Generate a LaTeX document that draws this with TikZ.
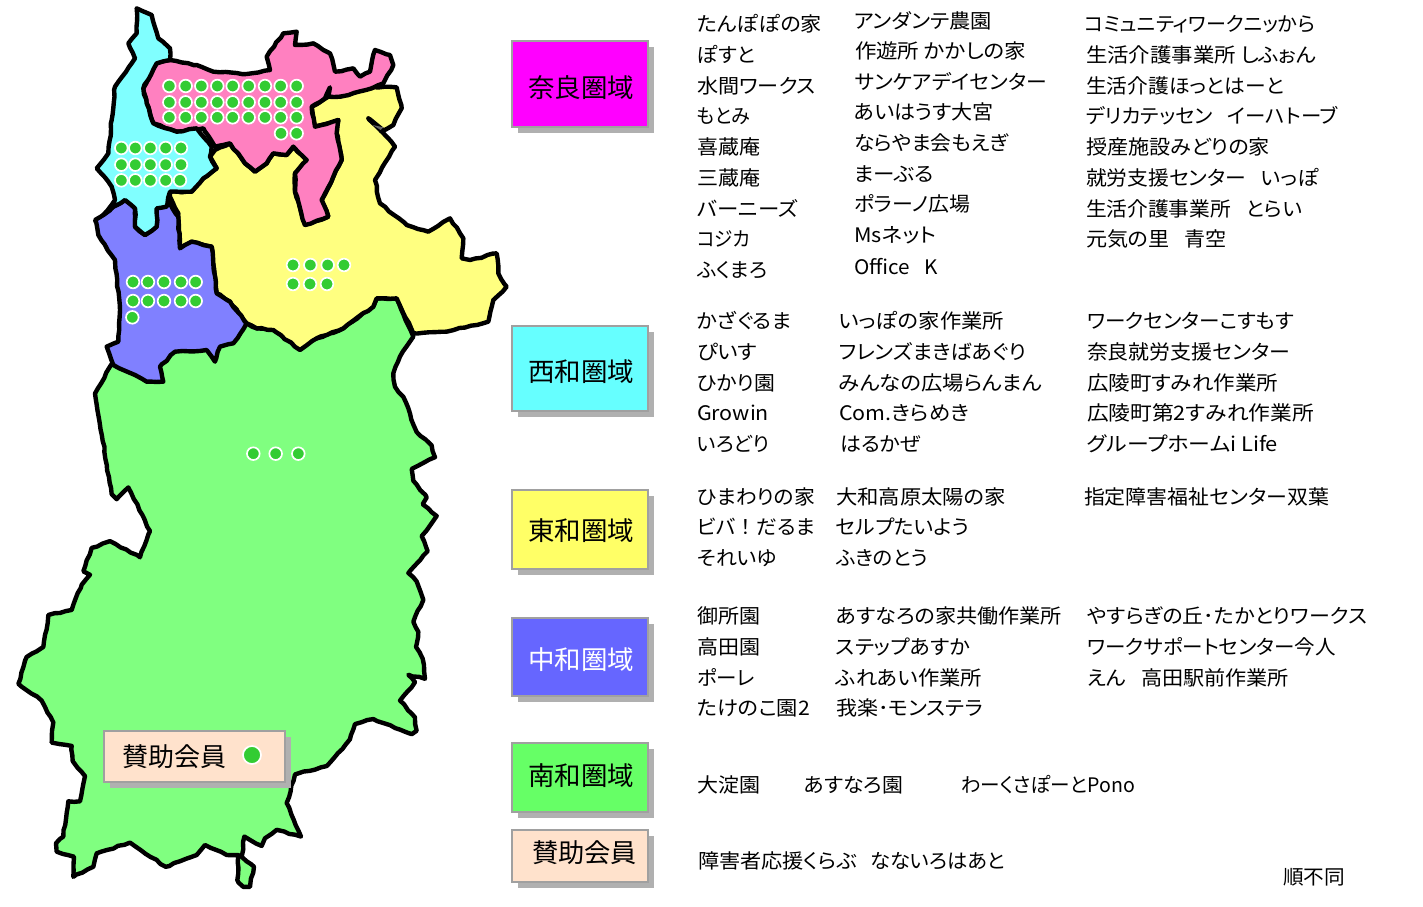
\documentclass[tikz,border=0pt]{standalone}
\usepackage{fontspec}
\usepackage{graphicx}
\usetikzlibrary{decorations.pathmorphing}
\newfontfamily\jp[RawFeature=+palt]{Noto Sans CJK JP}
\definecolor{rgpink}{HTML}{FF80C0}
\definecolor{rgcyan}{HTML}{80FFFF}
\definecolor{rgyellow}{HTML}{FFFF80}
\definecolor{rgpurple}{HTML}{8080FF}
\definecolor{rggreen}{HTML}{80FF80}
\definecolor{lgmag}{HTML}{FF00FF}
\definecolor{lgcyan}{HTML}{66FFFF}
\definecolor{lgyellow}{HTML}{FFFF66}
\definecolor{lgblue}{HTML}{6666FF}
\definecolor{lggreen}{HTML}{66FF66}
\definecolor{lgpeach}{HTML}{FFE2CC}
\definecolor{dotgreen}{HTML}{33CC33}
\definecolor{shadowgray}{HTML}{B0B0B0}
\definecolor{edgegray}{HTML}{A0A0A0}
\newlength\txlen
\newcounter{tc}
\newcommand\txcol{black}
\newcommand\gap{\hspace{.72em}}
\newcommand\tx[5][20]{%
  \stepcounter{tc}%
  \node[labeltext,text=\txcol] (t\arabic{tc}) at (#2,#4+0.37*#1+0.3) {\fontsize{#1}{#1}\jp\settowidth\txlen{#5}\pgfmathsetmacro\txs{(#3-#2)/\txlen}\scalebox{\txs}[1]{#5}};}
\newcommand\legend[6]{%
  \fill[shadowgray] (#2+6,#3+6) rectangle (#4+6,#5+6);
  \node[legendbox,fill=#6,minimum width=#4-#2,minimum height=#5-#3] (#1) at ({(#2+#4)/2},{(#3+#5)/2}) {};}
\newcommand\dotrow[2]{\foreach \xx in {#1} {\fill[mapdot] (\xx,#2) circle (19);}}
\tikzset{
  labeltext/.style={anchor=base west,inner sep=0pt,outer sep=0pt},
  legendbox/.style={draw=edgegray,line width=2.2pt,inner sep=0pt,outer sep=0pt},
  region/.style={draw=black,line width=4.4pt,line join=round,decorate,decoration={random steps,segment length=6pt,amplitude=0.7pt}},
  mapdot/.style={fill=dotgreen,draw=white,line width=1.7pt},
}
\pgfmathsetseed{7}
\begin{document}
\begin{tikzpicture}[x=1pt,y=-1pt]
\useasboundingbox (0,0) rectangle (1423,906);
\fill[white] (0,0) rectangle (1423,906);
% map in 3x coordinates
\begin{scope}[x=0.33333pt,y=-0.33333pt]
\begin{scope}[y=-0.3357pt,shift={(0pt,-380pt)}]
\path[region,fill=rggreen] (330,-40) -- (400,-139) -- (740,-169) -- (770,-154) -- (820,-149) -- (895,-99) -- (950,-124) -- (1030,-154) -- (1120,-219) -- (1130,-243) -- (1190,-243) -- (1240,-129) -- (1200,-70) -- (1180,-20) -- (1185,20) -- (1210,50) -- (1250,155) -- (1295,195) -- (1305,230) -- (1235,265) -- (1240,300) -- (1280,350) -- (1268,370) -- (1310,405) -- (1265,465) -- (1283,510) -- (1225,575) -- (1250,600) -- (1270,655) -- (1240,720) -- (1255,750) -- (1248,795) -- (1268,830) -- (1275,890) -- (1225,878) -- (1245,900) -- (1200,955) -- (1245,1005) -- (1250,1045) -- (1235,1055) -- (1120,1010) -- (1065,1025) -- (1050,1070) -- (980,1150) -- (885,1175) -- (860,1260) -- (903,1360) -- (830,1340) -- (795,1365) -- (785,1388) -- (733,1360) -- (725,1420) -- (762,1450) -- (750,1510) -- (730,1510) -- (712,1490) -- (715,1415) -- (680,1415) -- (615,1385) -- (590,1415) -- (497,1450) -- (390,1378) -- (290,1410) -- (280,1450) -- (220,1480) -- (222,1420) -- (170,1405) -- (168,1380) -- (190,1360) -- (205,1255) -- (240,1255) -- (255,1180) -- (218,1135) -- (215,1090) -- (155,1080) -- (160,1020) -- (125,955) -- (55,905) -- (80,825) -- (130,795) -- (145,700) -- (215,685) -- (245,610) -- (270,580) -- (250,570) -- (275,500) -- (330,480) -- (420,528) -- (450,450) -- (385,320) -- (350,355) -- (335,340) -- (285,40) -- cycle;
\end{scope}
\path[region,fill=rgyellow] (510,575) -- (575,575) -- (610,535) -- (650,505) -- (630,470) -- (645,450) -- (690,430) -- (735,490) -- (765,515) -- (800,490) -- (820,460) -- (860,465) -- (880,440) -- (920,480) -- (885,520) -- (885,575) -- (915,675) -- (985,650) -- (965,600) -- (1000,530) -- (1025,480) -- (1010,400) -- (1015,360) -- (945,380) -- (935,320) -- (985,290) -- (1020,290) -- (1115,260) -- (1190,262) -- (1205,325) -- (1180,375) -- (1145,395) -- (1105,355) -- (1160,410) -- (1185,440) -- (1125,540) -- (1140,610) -- (1220,675) -- (1285,695) -- (1350,655) -- (1390,715) -- (1385,775) -- (1410,780) -- (1490,760) -- (1495,820) -- (1520,860) -- (1480,900) -- (1465,965) -- (1340,995) -- (1240,1000) -- (1190,895) -- (1130,895) -- (1120,920) -- (1030,985) -- (950,1015) -- (900,1050) -- (820,990) -- (770,985) -- (740,970) -- (690,905) -- (650,880) -- (635,740) -- (575,725) -- (540,745) -- (535,640) -- (510,590) -- cycle;
\path[region,fill=rgpurple] (285,660) -- (310,645) -- (340,620) -- (375,600) -- (405,625) -- (405,680) -- (435,705) -- (470,680) -- (470,625) -- (510,610) -- (535,650) -- (540,745) -- (575,725) -- (635,740) -- (650,880) -- (690,905) -- (740,970) -- (700,1030) -- (660,1040) -- (645,1085) -- (620,1050) -- (525,1055) -- (480,1100) -- (490,1145) -- (440,1145) -- (405,1125) -- (340,1095) -- (320,1040) -- (355,1025) -- (360,930) -- (345,780) -- (295,705) -- cycle;
\path[region,fill=rgpink] (430,265) -- (470,190) -- (510,180) -- (590,195) -- (640,215) -- (740,222) -- (810,210) -- (800,170) -- (850,100) -- (890,95) -- (885,135) -- (940,130) -- (990,160) -- (1005,215) -- (1060,205) -- (1080,230) -- (1110,215) -- (1125,150) -- (1170,165) -- (1180,195) -- (1150,250) -- (1115,265) -- (1020,290) -- (985,290) -- (990,262) -- (975,295) -- (935,320) -- (945,380) -- (1015,360) -- (1010,400) -- (1025,480) -- (1000,530) -- (965,600) -- (985,650) -- (915,675) -- (885,575) -- (885,520) -- (920,480) -- (880,440) -- (860,465) -- (820,460) -- (800,490) -- (765,515) -- (735,490) -- (690,430) -- (645,440) -- (610,385) -- (530,395) -- (460,370) -- (440,310) -- cycle;
\path[region,fill=rgcyan] (410,25) -- (455,45) -- (475,115) -- (510,145) -- (510,180) -- (470,190) -- (430,265) -- (440,310) -- (460,370) -- (530,395) -- (590,385) -- (635,440) -- (630,470) -- (650,505) -- (610,535) -- (575,575) -- (510,575) -- (500,620) -- (470,625) -- (470,680) -- (435,705) -- (405,680) -- (405,625) -- (375,600) -- (340,620) -- (310,645) -- (345,600) -- (335,560) -- (290,505) -- (325,460) -- (335,360) -- (345,260) -- (395,190) -- (405,175) -- (385,130) -- (410,100) -- cycle;
\draw[black,line width=5pt,line cap=round] (1108,358) -- (1150,392);
\fill[black!60] (1118,375) -- (1150,382) -- (1142,390) -- cycle;
% dots
\dotrow{508,557,604,652,698,746,795,842,890}{258}
\dotrow{508,557,604,652,698,746,795,842,890}{307}
\dotrow{508,557,604,652,698,746,795,842,890}{352}
\dotrow{843,890}{400}
\dotrow{364,406,451,497,543}{444}
\dotrow{364,406,451,497,543}{494}
\dotrow{364,406,451,497,540}{541}
\dotrow{399,444,492,543,587}{846}
\dotrow{399,444,492,543,587}{903}
\dotrow{397}{952}
\dotrow{879,931,983,1032}{795}
\dotrow{879,930,981}{852}
\dotrow{760,827,895}{1361}
\end{scope}
% legend on the map
\legend{mapkey}{104}{731}{285}{782}{lgpeach}
\fill[mapdot] (252,755) circle (9);
\tx[26]{122}{226}{757}{賛助会員}
% legend boxes
\legend{nara}{512}{41}{648}{127}{lgmag}
\legend{seiwa}{512}{326}{648}{411}{lgcyan}
\legend{towa}{512}{490}{648}{569}{lgyellow}
\legend{chuwa}{512}{618}{648}{696}{lgblue}
\legend{nanwa}{512}{743}{648}{812}{lggreen}
\legend{sanjo}{512}{830}{648}{882}{lgpeach}
\tx[26]{528}{634}{88}{奈良圏域}
\tx[26]{528}{634}{372}{西和圏域}
\tx[26]{528}{634}{531}{東和圏域}
\renewcommand\txcol{white}
\tx[26]{528}{634}{660}{中和圏域}
\renewcommand\txcol{black}
\tx[26]{528}{634}{776}{南和圏域}
\tx[26]{532}{637}{853}{賛助会員}
% Nara
\tx{697}{822}{24}{たんぽぽの家}
\tx{697}{755}{55}{ぽすと}
\tx{697}{816}{86}{水間ワークス}
\tx{697}{750}{116}{もとみ}
\tx{697}{760}{147}{喜蔵庵}
\tx{697}{760}{178}{三蔵庵}
\tx{697}{798}{209}{バーニーズ}
\tx{697}{750}{239}{コジカ}
\tx{697}{767}{270}{ふくまろ}
\tx{854}{992}{21}{アンダンテ農園}
\tx{855}{1026}{51}{作遊所 かかしの家}
\tx{855}{1047}{82}{サンケアデイセンター}
\tx{854}{994}{112}{あいはうす大宮}
\tx{854}{1008}{143}{ならやま会もえぎ}
\tx{854}{934}{174}{まーぶる}
\tx{854}{970}{204}{ポラーノ広場}
\tx{854}{936}{235}{Msネット}
\tx{854}{938}{267}{Office\gap K}
\tx{1085}{1315}{24}{コミュニティワークニッから}
\tx{1086}{1316}{55}{生活介護事業所 しふぉん}
\tx{1086}{1284}{86}{生活介護ほっとはーと}
\tx{1086}{1338}{116}{デリカテッセン\gap イーハトーブ}
\tx{1086}{1270}{147}{授産施設みどりの家}
\tx{1086}{1319}{178}{就労支援センター\gap いっぽ}
\tx{1086}{1302}{209}{生活介護事業所\gap とらい}
\tx{1086}{1227}{239}{元気の里\gap 青空}
% Seiwa
\tx{697}{791}{321}{かざぐるま}
\tx{697}{757}{352}{ぴいす}
\tx{697}{775}{383}{ひかり園}
\tx{697}{769}{413}{Growin}
\tx{697}{769}{444}{いろどり}
\tx{839}{1004}{321}{いっぽの家作業所}
\tx{839}{1026}{352}{フレンズまきばあぐり}
\tx{839}{1042}{383}{みんなの広場らんまん}
\tx{839}{969}{413}{Com.きらめき}
\tx{840}{921}{444}{はるかぜ}
\tx{1087}{1294}{321}{ワークセンターこすもす}
\tx{1087}{1290}{352}{奈良就労支援センター}
\tx{1087}{1278}{383}{広陵町すみれ作業所}
\tx{1087}{1314}{413}{広陵町第2すみれ作業所}
\tx{1087}{1278}{444}{グループホームi Life}
% Towa
\tx{697}{815}{497}{ひまわりの家}
\tx{697}{815}{527}{ビバ\hspace{.25em}！\hspace{.25em}だるま}
\tx{697}{777}{558}{それいゆ}
\tx{836}{1006}{497}{大和高原太陽の家}
\tx{836}{969}{527}{セルプたいよう}
\tx{836}{928}{558}{ふきのとう}
\tx{1084}{1329}{497}{指定障害福祉センター双葉}
% Chuwa
\tx{697}{760}{616}{御所園}
\tx{697}{760}{647}{高田園}
\tx{697}{755}{678}{ポーレ}
\tx{697}{810}{708}{たけのこ園2}
\tx{836}{1062}{616}{あすなろの家共働作業所}
\tx{836}{970}{647}{ステップあすか}
\tx{836}{982}{678}{ふれあい作業所}
\tx{836}{983}{708}{我楽･モンステラ}
\tx{1087}{1367}{616}{やすらぎの丘･たかとりワークス}
\tx{1087}{1336}{647}{ワークサポートセンター今人}
\tx{1087}{1289}{678}{えん\gap 高田駅前作業所}
% Nanwa
\tx{697}{760}{785}{大淀園}
\tx{804}{903}{785}{あすなろ園}
\tx{961}{1135}{785}{わーくさぽーとPono}
% Sanjo
\tx{698}{857}{861}{障害者応援くらぶ}
\tx{870}{1005}{861}{なないろはあと}
\tx{1283}{1345}{877}{順不同}
\end{tikzpicture}
\end{document}
